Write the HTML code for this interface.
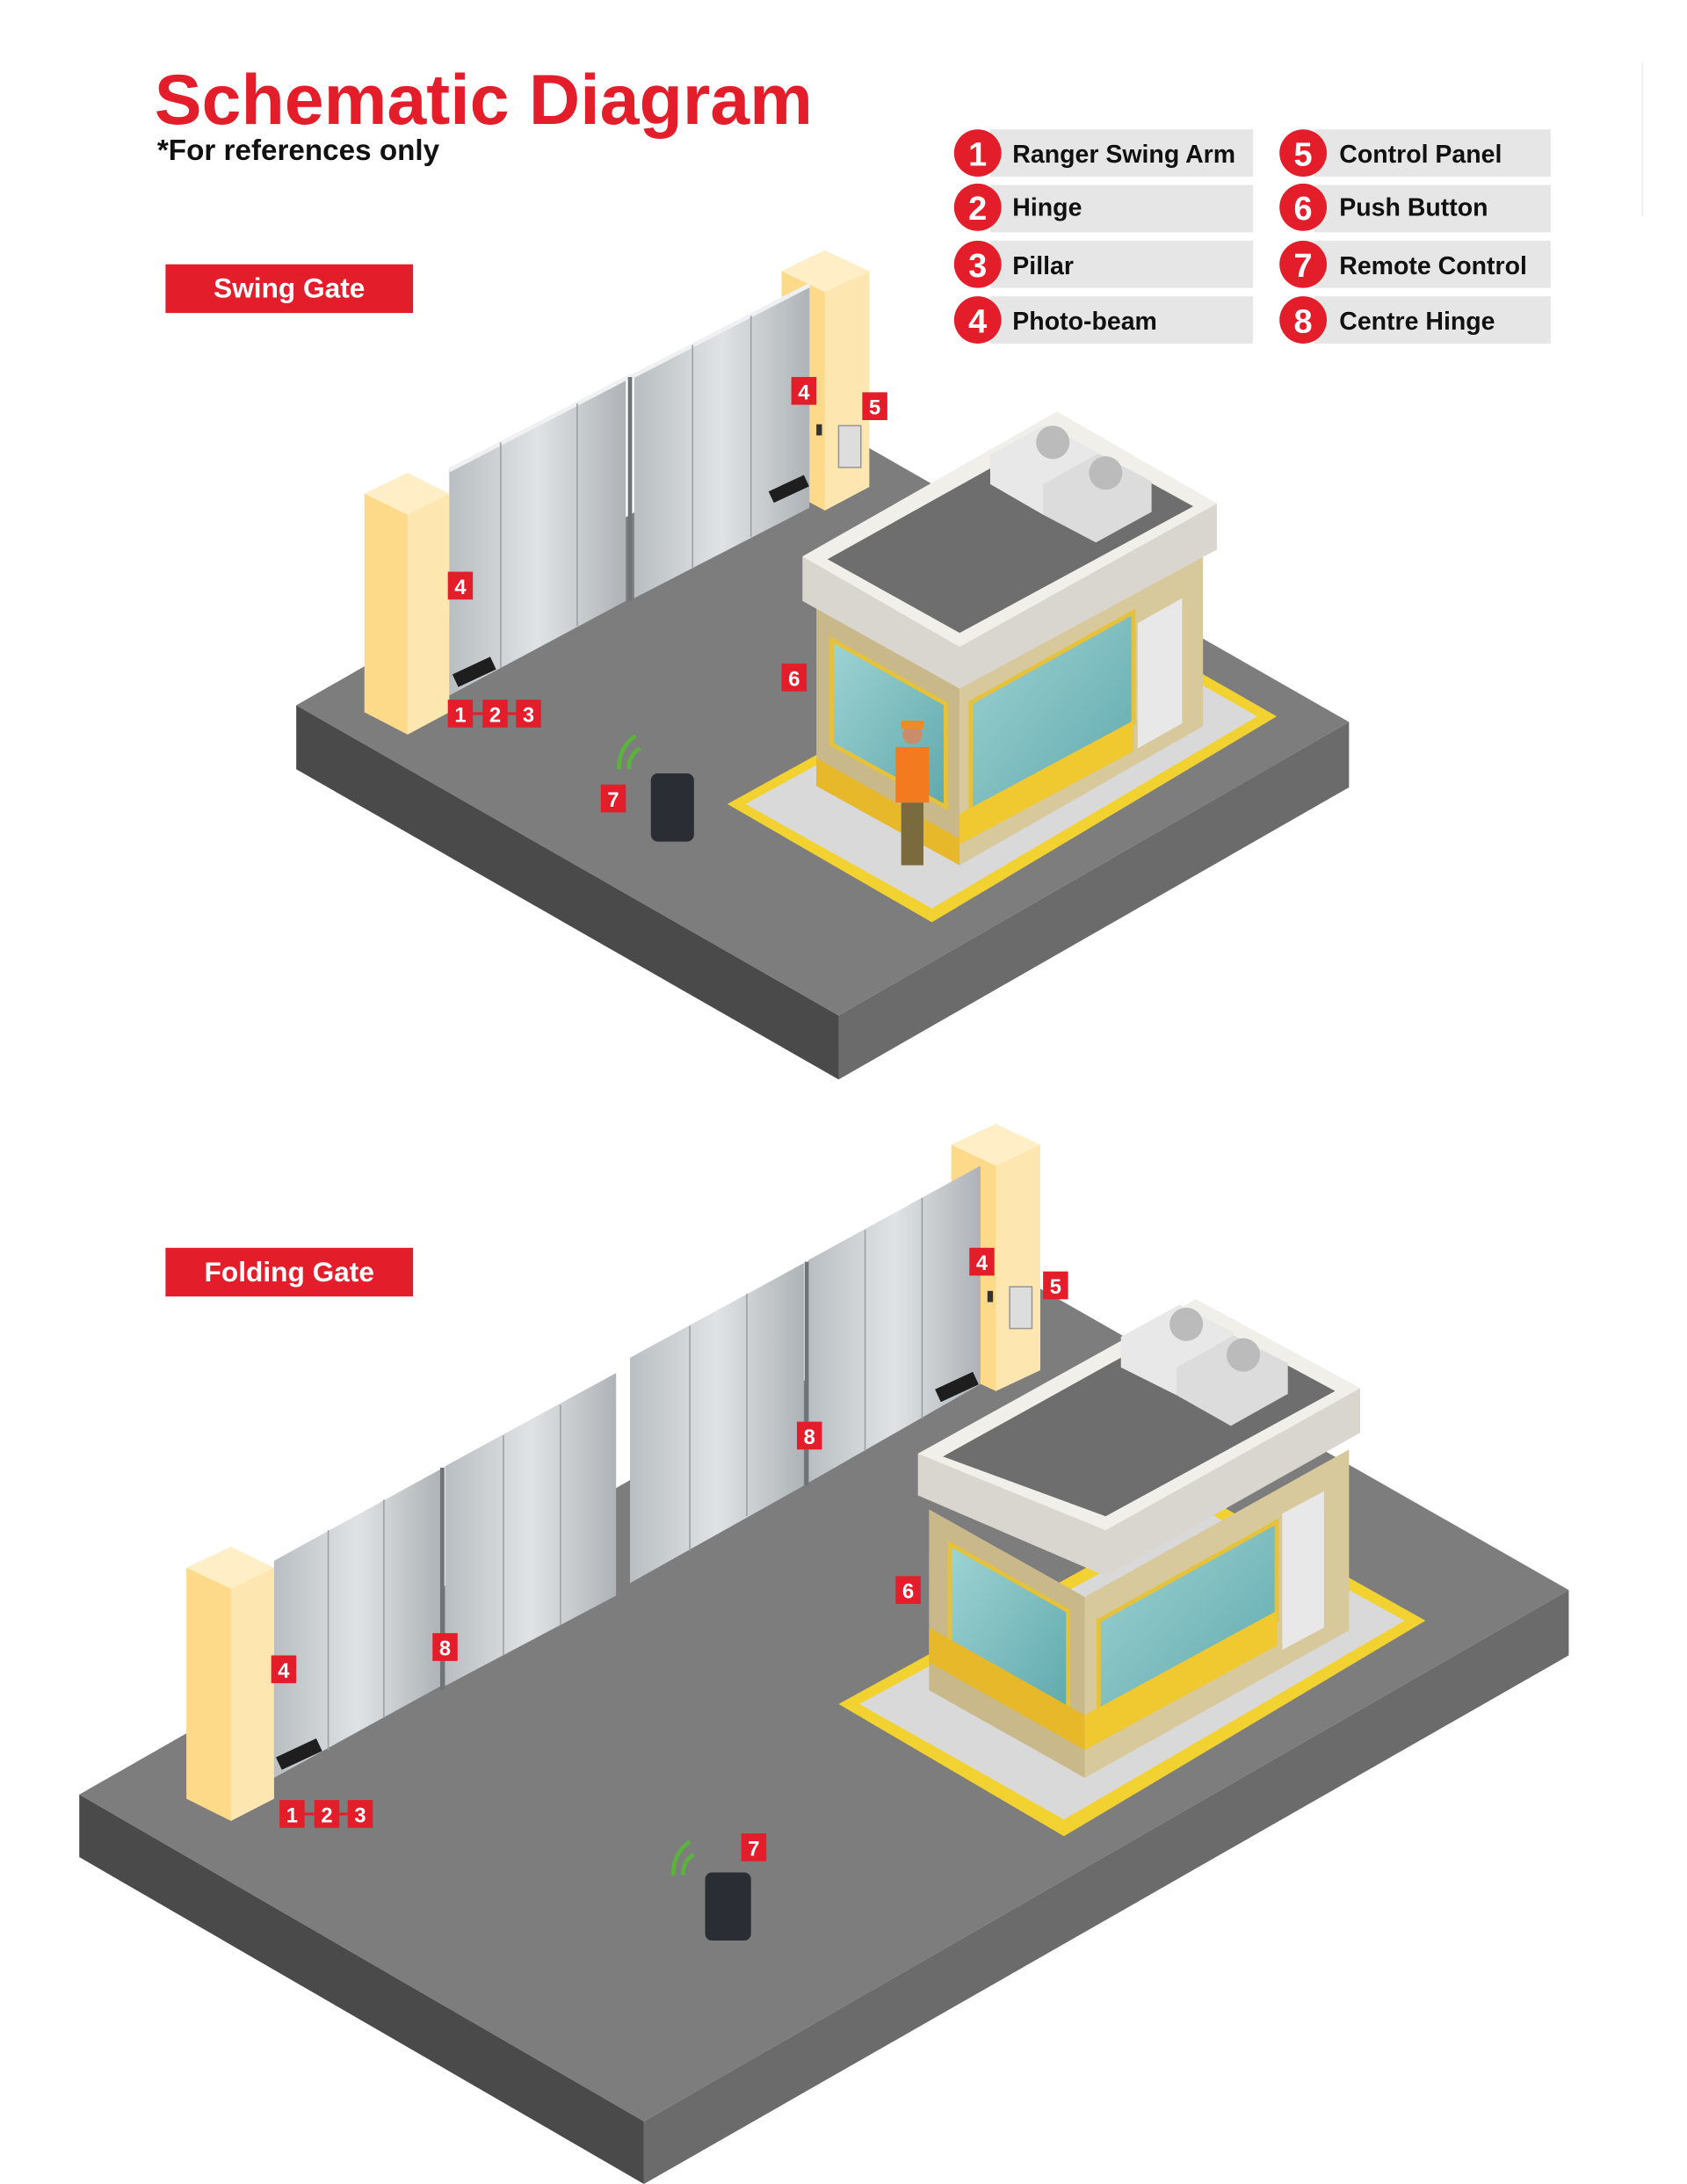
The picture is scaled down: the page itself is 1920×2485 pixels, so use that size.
<!DOCTYPE html>
<html><head><meta charset="utf-8"><style>
html,body{margin:0;padding:0;background:#fff;}
svg{display:block;}
text{font-family:"Liberation Sans",sans-serif;font-weight:bold;}
</style></head><body>
<svg width="1920" height="2485" viewBox="0 0 1213 1570" xmlns="http://www.w3.org/2000/svg">
<defs>
<linearGradient id="gt" x1="0" x2="1" y1="0" y2="0"><stop offset="0" stop-color="#b9bec2"/><stop offset="0.5" stop-color="#dfe3e5"/><stop offset="1" stop-color="#aeb3b7"/></linearGradient>
<linearGradient id="gl" x1="0" x2="1" y1="0" y2="1"><stop offset="0" stop-color="#9fd3d3"/><stop offset="1" stop-color="#5fa9ad"/></linearGradient>
</defs>
<rect width="1213" height="1570" fill="#fff"/>
<line x1="1181" y1="45" x2="1181" y2="155" stroke="#eee"/>
<!-- Title -->
<text x="111" y="89" font-size="51" fill="#e31e2a">Schematic Diagram</text>
<text x="113" y="115" font-size="21" fill="#111">*For references only</text>
<!-- Legend -->
<g font-size="18" fill="#111">
<rect x="712" y="93" width="189" height="34" fill="#e6e6e6"/><rect x="712" y="133" width="189" height="34" fill="#e6e6e6"/><rect x="712" y="173" width="189" height="34" fill="#e6e6e6"/><rect x="712" y="213" width="189" height="34" fill="#e6e6e6"/>
<rect x="945" y="93" width="170" height="34" fill="#e6e6e6"/><rect x="945" y="133" width="170" height="34" fill="#e6e6e6"/><rect x="945" y="173" width="170" height="34" fill="#e6e6e6"/><rect x="945" y="213" width="170" height="34" fill="#e6e6e6"/>
<g fill="#e31e2a"><circle cx="703" cy="110" r="17"/><circle cx="703" cy="149" r="17"/><circle cx="703" cy="190" r="17"/><circle cx="703" cy="230" r="17"/><circle cx="937" cy="110" r="17"/><circle cx="937" cy="149" r="17"/><circle cx="937" cy="190" r="17"/><circle cx="937" cy="230" r="17"/></g>
<g fill="#fff" font-size="24" text-anchor="middle"><text x="703" y="119">1</text><text x="703" y="158">2</text><text x="703" y="199">3</text><text x="703" y="239">4</text><text x="937" y="119">5</text><text x="937" y="158">6</text><text x="937" y="199">7</text><text x="937" y="239">8</text></g>
<text x="728" y="117">Ranger Swing Arm</text><text x="728" y="155">Hinge</text><text x="728" y="197">Pillar</text><text x="728" y="237">Photo-beam</text>
<text x="963" y="117">Control Panel</text><text x="963" y="155">Push Button</text><text x="963" y="197">Remote Control</text><text x="963" y="237">Centre Hinge</text>
</g>
<!-- Labels -->
<rect x="119" y="190" width="178" height="35" fill="#e31e2a"/><text x="208" y="214" font-size="20" fill="#fff" text-anchor="middle">Swing Gate</text>
<rect x="119" y="897" width="178" height="35" fill="#e31e2a"/><text x="208" y="921" font-size="20" fill="#fff" text-anchor="middle">Folding Gate</text>

<!-- ===== SWING SCENE ===== -->
<polygon points="213,507 603,730 603,776 213,553" fill="#4a4a4a"/>
<polygon points="603,730 970,519 970,566 603,776" fill="#6b6b6b"/>
<polygon points="213,507 581,297 970,519 603,730" fill="#7d7d7d"/>
<!-- right pillar -->
<polygon points="562,195 593,180 625,195 625,350 593,367 562,350" fill="#fdd98a"/>
<polygon points="593,195 625,195 625,350 593,367" fill="#fee6b0"/>
<polygon points="562,195 593,180 625,195 593,210" fill="#ffeec6"/>
<!-- gates -->
<polygon points="323,338 450,272 450,432 323,500" fill="url(#gt)"/>
<polygon points="456,270 582,205 582,365 456,430" fill="url(#gt)"/>
<polyline points="323,338 450,272 456,270 582,205" fill="none" stroke="#eef0f1" stroke-width="3"/>
<g stroke="#9aa0a4" stroke-width="1"><line x1="360" y1="318" x2="360" y2="480"/><line x1="415" y1="290" x2="415" y2="450"/><line x1="498" y1="248" x2="498" y2="408"/><line x1="540" y1="227" x2="540" y2="386"/></g>
<line x1="453" y1="271" x2="453" y2="432" stroke="#6f7478" stroke-width="3"/>
<!-- left pillar -->
<polygon points="262,355 293,340 323,355 323,512 293,528 262,512" fill="#fdd98a"/>
<polygon points="293,355 323,355 323,512 293,528" fill="#fee6b0"/>
<polygon points="262,355 293,340 323,355 293,370" fill="#ffeec6"/>
<rect x="326" y="478" width="30" height="10" fill="#1e1e1e" transform="rotate(-25 341 483)"/>
<rect x="553" y="347" width="28" height="9" fill="#1e1e1e" transform="rotate(-25 567 351)"/>
<rect x="603" y="306" width="16" height="30" fill="#ddd" stroke="#999"/>
<rect x="587" y="305" width="4" height="8" fill="#333"/>
<!-- booth 1 curb -->
<polygon points="523,578 780,436 918,515 670,663" fill="#f2d230"/>
<polygon points="536,578 780,444 904,515 670,653" fill="#d9d9d9"/>
<!-- booth 1 body -->
<polygon points="587,420 690,478 690,622 587,565" fill="#c9b98a"/>
<polygon points="690,478 865,380 865,522 690,622" fill="#d8c99c"/>
<polygon points="598,460 680,506 680,580 598,535" fill="url(#gl)" stroke="#e6c23a" stroke-width="3"/>
<polygon points="698,505 815,440 815,520 698,585" fill="url(#gl)" stroke="#e6c23a" stroke-width="3"/>
<polygon points="818,448 850,430 850,520 818,538" fill="#e8e8e8"/>
<polygon points="587,545 690,603 690,622 587,565" fill="#e6b82a"/>
<polygon points="690,585 815,518 815,540 690,607" fill="#f0c830"/>
<!-- roof 1 -->
<polygon points="577,400 760,296 875,362 875,395 690,495 577,432" fill="#d8d6cf"/>
<polygon points="577,400 760,296 875,362 690,465" fill="#f0efea"/>
<polygon points="595,402 760,310 858,364 690,455" fill="#6e6e6e"/>
<polygon points="712,327 752,305 790,326 790,348 750,370 712,348" fill="#e8e8e8"/>
<polygon points="750,348 790,326 828,346 828,368 788,390 750,370" fill="#dcdcdc"/>
<circle cx="757" cy="318" r="12" fill="#bbb"/><circle cx="795" cy="340" r="12" fill="#bbb"/>
<!-- person -->
<circle cx="656" cy="528" r="7" fill="#c98d6b"/><rect x="648" y="518" width="16" height="6" fill="#f08a24"/>
<rect x="644" y="537" width="24" height="40" fill="#f47a20"/>
<rect x="648" y="577" width="16" height="45" fill="#7a6b3e"/>
<!-- remote 1 -->
<rect x="468" y="556" width="31" height="49" rx="5" fill="#2a2d33"/>
<path d="M445,553 q0,-16 12,-24 M452,553 q0,-10 8,-15" stroke="#5bb33e" stroke-width="3" fill="none"/>

<!-- ===== FOLDING SCENE ===== -->
<polygon points="57,1290 463,1525 463,1570 57,1335" fill="#4a4a4a"/>
<polygon points="463,1525 1128,1143 1128,1190 463,1570" fill="#6b6b6b"/>
<polygon points="57,1290 721,911 1128,1143 463,1525" fill="#7d7d7d"/>
<!-- right pillar -->
<polygon points="684,823 716,808 748,823 748,985 716,1000 684,985" fill="#fdd98a"/>
<polygon points="716,823 748,823 748,985 716,1000" fill="#fee6b0"/>
<polygon points="684,823 716,808 748,823 716,838" fill="#ffeec6"/>
<!-- gates -->
<polygon points="197,1122 317,1056 317,1212 197,1278" fill="url(#gt)"/>
<polygon points="320,1054 443,987 443,1147 320,1212" fill="url(#gt)"/>
<polygon points="453,976 578,908 578,1068 453,1138" fill="url(#gt)"/>
<polygon points="581,906 705,838 705,995 581,1066" fill="url(#gt)"/>
<g stroke="#9aa0a4" stroke-width="1"><line x1="236" y1="1100" x2="236" y2="1258"/><line x1="276" y1="1078" x2="276" y2="1235"/><line x1="362" y1="1032" x2="362" y2="1190"/><line x1="403" y1="1010" x2="403" y2="1168"/><line x1="496" y1="953" x2="496" y2="1115"/><line x1="537" y1="930" x2="537" y2="1090"/><line x1="622" y1="884" x2="622" y2="1043"/><line x1="663" y1="861" x2="663" y2="1020"/></g>
<line x1="318" y1="1055" x2="318" y2="1215" stroke="#6f7478" stroke-width="3"/>
<line x1="580" y1="907" x2="580" y2="1068" stroke="#6f7478" stroke-width="3"/>
<!-- left pillar -->
<polygon points="134,1127 166,1112 197,1127 197,1293 166,1309 134,1293" fill="#fdd98a"/>
<polygon points="166,1127 197,1127 197,1293 166,1309" fill="#fee6b0"/>
<polygon points="134,1127 166,1112 197,1127 166,1142" fill="#ffeec6"/>
<rect x="199" y="1256" width="32" height="10" fill="#1e1e1e" transform="rotate(-25 215 1261)"/>
<rect x="673" y="992" width="30" height="10" fill="#1e1e1e" transform="rotate(-25 688 997)"/>
<rect x="726" y="925" width="16" height="30" fill="#ddd" stroke="#999"/>
<rect x="710" y="928" width="4" height="8" fill="#333"/>
<!-- booth 2 curb -->
<polygon points="603,1225 870,1078 1025,1165 765,1320" fill="#f2d230"/>
<polygon points="618,1225 870,1088 1010,1165 765,1308" fill="#d9d9d9"/>
<polygon points="668,1085 780,1148 780,1278 668,1215" fill="#c9b98a"/>
<polygon points="780,1148 970,1042 970,1172 780,1278" fill="#d8c99c"/>
<polygon points="683,1110 768,1158 768,1232 683,1185" fill="url(#gl)" stroke="#e6c23a" stroke-width="3"/>
<polygon points="790,1165 918,1094 918,1165 790,1236" fill="url(#gl)" stroke="#e6c23a" stroke-width="3"/>
<polygon points="922,1088 952,1072 952,1170 922,1186" fill="#e8e8e8"/>
<polygon points="668,1170 780,1233 780,1258 668,1195" fill="#e6b82a"/>
<polygon points="780,1233 918,1158 918,1183 780,1258" fill="#f0c830"/>
<polygon points="660,1045 860,934 978,998 978,1030 795,1133 660,1075" fill="#d8d6cf"/>
<polygon points="660,1045 860,934 978,998 795,1100" fill="#f0efea"/>
<polygon points="678,1047 860,946 960,1000 795,1090" fill="#6e6e6e"/>
<polygon points="806,961 848,938 887,958 887,980 846,1003 806,983" fill="#e8e8e8"/>
<polygon points="846,983 887,960 926,980 926,1002 885,1025 846,1003" fill="#dcdcdc"/>
<circle cx="853" cy="952" r="12" fill="#bbb"/><circle cx="894" cy="974" r="12" fill="#bbb"/>
<!-- remote 2 -->
<rect x="507" y="1346" width="33" height="49" rx="5" fill="#2a2d33"/>
<path d="M484,1348 q0,-16 12,-24 M491,1348 q0,-10 8,-15" stroke="#5bb33e" stroke-width="3" fill="none"/>

<!-- markers -->
<g font-size="15" fill="#fff" text-anchor="middle">
<g fill="#e31e2a"><rect x="569" y="271" width="18" height="20"/><rect x="620" y="282" width="18" height="20"/><rect x="322" y="411" width="18" height="20"/><rect x="562" y="477" width="18" height="20"/><rect x="322" y="503" width="18" height="20"/><rect x="347" y="503" width="18" height="20"/><rect x="371" y="503" width="18" height="20"/><rect x="432" y="564" width="18" height="20"/>
<rect x="697" y="897" width="18" height="20"/><rect x="750" y="914" width="18" height="20"/><rect x="573" y="1022" width="18" height="20"/><rect x="644" y="1133" width="18" height="20"/><rect x="311" y="1174" width="18" height="20"/><rect x="195" y="1190" width="18" height="20"/><rect x="201" y="1294" width="18" height="20"/><rect x="226" y="1294" width="18" height="20"/><rect x="250" y="1294" width="18" height="20"/><rect x="533" y="1318" width="18" height="20"/></g>
<g stroke="#e31e2a" stroke-width="2"><line x1="340" y1="513" x2="347" y2="513"/><line x1="365" y1="513" x2="371" y2="513"/><line x1="219" y1="1304" x2="226" y2="1304"/><line x1="244" y1="1304" x2="250" y2="1304"/></g>
<text x="578" y="287">4</text><text x="629" y="298">5</text><text x="331" y="427">4</text><text x="571" y="493">6</text><text x="331" y="519">1</text><text x="356" y="519">2</text><text x="380" y="519">3</text><text x="441" y="580">7</text>
<text x="706" y="913">4</text><text x="759" y="930">5</text><text x="582" y="1038">8</text><text x="653" y="1149">6</text><text x="320" y="1190">8</text><text x="204" y="1206">4</text><text x="210" y="1310">1</text><text x="235" y="1310">2</text><text x="259" y="1310">3</text><text x="542" y="1334">7</text>
</g>
</svg>
</body></html>
